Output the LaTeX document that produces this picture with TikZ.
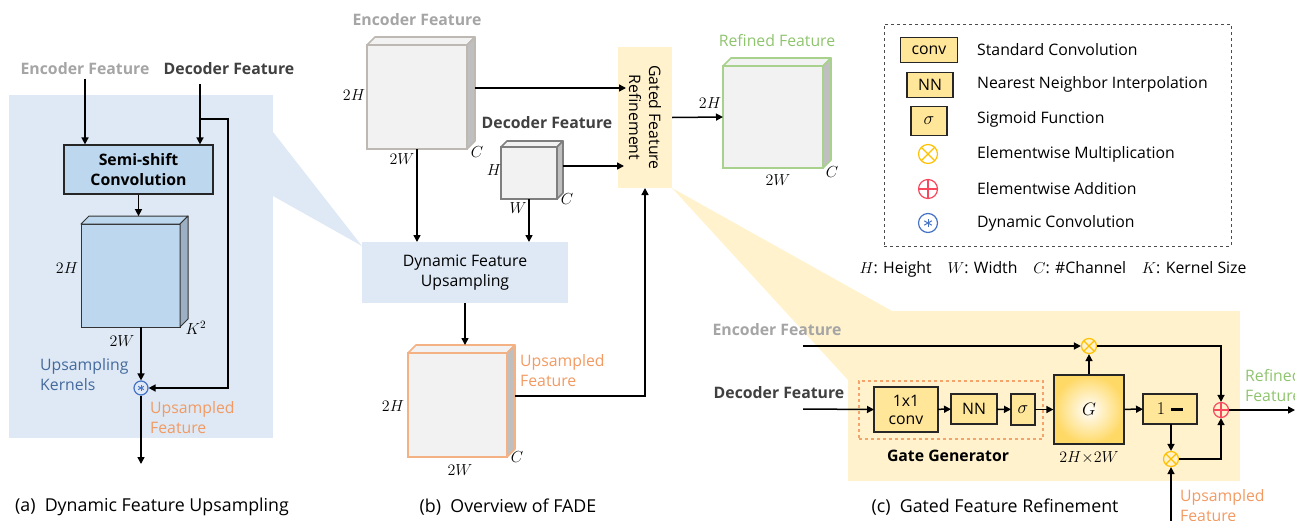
\RequirePackage{fix-cm}
\documentclass[tikz,border=0pt]{standalone}
\usepackage{fontspec}
\setmainfont{Open Sans}
\usetikzlibrary{positioning,arrows.meta}

\definecolor{bluebg}{HTML}{DEE9F5}
\definecolor{semiblue}{HTML}{BDD7EE}
\definecolor{kside}{HTML}{9DB0C3}
\definecolor{gfryel}{HTML}{FFF2CC}
\definecolor{opyel}{HTML}{FFE699}
\definecolor{gdeep}{HTML}{FFD966}
\definecolor{mulcol}{HTML}{FFC000}
\definecolor{addcol}{HTML}{F8485E}
\definecolor{dyncol}{HTML}{4472C4}
\definecolor{encgray}{HTML}{A5A5A5}
\definecolor{decdark}{HTML}{404040}
\definecolor{kerntxt}{HTML}{44699C}
\definecolor{uporange}{HTML}{F29A62}
\definecolor{upline}{HTML}{F4B183}
\definecolor{refgreen}{HTML}{8FC46E}
\definecolor{refline}{HTML}{A9D18E}
\definecolor{encline}{HTML}{BDB8B2}
\definecolor{decline}{HTML}{7F7F7F}
\definecolor{sidegray}{HTML}{BFBFBF}
\definecolor{mapfill}{HTML}{F2F2F2}
\definecolor{ggorange}{HTML}{F4A36B}

\newcommand{\figfont}{\fontsize{15.8}{20}\selectfont}
\newcommand{\dimfont}{\fontsize{16}{17}\selectfont}
\newcommand{\capfont}{\fontsize{17.8}{21}\selectfont}
\newcommand{\symfont}{\fontsize{18}{18}\selectfont}

% depth faces of a feature map: node, depth, line options, top fill, side fill
\newcommand{\mapdepth}[5]{%
  \filldraw[#3, fill=#4, line join=round] (#1.north west) -- ++(#2,-#2)
    -- ([shift={(#2,-#2)}]#1.north east) -- (#1.north east) -- cycle;
  \filldraw[#3, fill=#5, line join=round] (#1.north east) -- ++(#2,-#2)
    -- ([shift={(#2,-#2)}]#1.south east) -- (#1.south east) -- cycle;}

\begin{document}
\begin{tikzpicture}[x=1pt, y=-1pt, font=\figfont,
  arr/.style={-{Triangle[length=7pt,width=7pt]}, line width=1.5pt},
  ln/.style={line width=1.5pt},
  fmap/.style={draw, line width=1.6pt, fill=mapfill, outer sep=0pt, inner sep=0pt},
  opbox/.style={draw=black!85, line width=1.2pt, fill=opyel, align=center, inner sep=0pt, outer sep=0pt},
  dim/.style={font=\dimfont, inner sep=1pt},
  enclbl/.style={text=encgray, font=\figfont\bfseries},
  declbl/.style={text=decdark, font=\figfont\bfseries},
  captxt/.style={font=\capfont},
  mulop/.style={circle, draw=mulcol, line width=1.2pt, minimum size=#1, inner sep=0pt,
    path picture={\draw[mulcol, line width=1.2pt] (path picture bounding box.north west) -- (path picture bounding box.south east)
      (path picture bounding box.north east) -- (path picture bounding box.south west);}},
  addop/.style={circle, draw=addcol, line width=1.2pt, minimum size=#1, inner sep=0pt,
    path picture={\draw[addcol, line width=1.2pt] (path picture bounding box.north) -- (path picture bounding box.south)
      (path picture bounding box.east) -- (path picture bounding box.west);}},
  dynop/.style={circle, draw=dyncol, line width=1.2pt, minimum size=#1, inner sep=0pt,
    path picture={\foreach \a in {90,30,-30}
      \draw[dyncol, line width=1pt] (path picture bounding box.center) ++(\a:0.23*#1) -- ++(\a+180:0.46*#1);}}]
\useasboundingbox (0,0) rectangle (1295,520);

% backgrounds and callouts
\fill[bluebg] (9,95) rectangle (273,438);
\fill[bluebg] (273,132) -- (362,246) -- (273,196) -- cycle;
\fill[gfryel] (848,311) rectangle (1240,481);
\fill[gfryel] (672,188) -- (848,380) -- (892,311) -- cycle;

% (a) dynamic feature upsampling
\node[enclbl] (encA) at (85,69) {Encoder Feature};
\node[declbl] (decA) at (229,69) {Decoder Feature};
\node[draw=black!85, line width=1.2pt, fill=semiblue, minimum width=149, minimum height=49,
  align=center, inner sep=0pt, font=\figfont\bfseries] (ssc) at (138.5,169.5) {Semi-shift\\Convolution};
\node[fmap, draw=black!80, line width=1pt, fill=semiblue, minimum width=99, minimum height=103] (kA) at (130.5,275.5) {};
\mapdepth{kA}{8}{draw=black!80, line width=1pt}{semiblue}{kside}
\node[dim] at (67,268) {$2H$};
\node[dim] at (122,341) {$2W$};
\node[dim] at (196,328) {$K^2$};
\node[dynop=14] (dcA) at (141,388) {};
\node[anchor=west, align=left, text=kerntxt, inner sep=0pt] (kernA) at (40,375) {Upsampling\\Kernels};
\node[anchor=west, align=left, text=uporange, inner sep=0pt] (upA) at (150,418) {Upsampled\\Feature};
\coordinate (decAx) at (200,84);
\coordinate (brA) at (200,119);
\coordinate (outA) at (141,464);
\draw[arr] (encA.south) -- (encA.south |- ssc.north);
\draw[arr] (decAx) -- (decAx |- ssc.north);
\draw[arr] (brA) -- ++(28,0) |- (dcA.east);
\draw[arr] (ssc.south) -- ++(0,21.5);
\draw[arr] (dcA |- kA.south) -- (dcA);
\draw[arr] (dcA) -- (outA);
\node[captxt] (capA) at (152,507) {(a)\ \ Dynamic Feature Upsampling};

% (b) overview of FADE
\node[enclbl] (encB) at (417,20) {Encoder Feature};
\node[fmap, draw=encline, minimum width=100, minimum height=104] (encCube) at (417,97) {};
\mapdepth{encCube}{8}{draw=encline, line width=1.6pt}{mapfill}{sidegray}
\node[dim] at (354,95) {$2H$};
\node[dim] at (402,159) {$2W$};
\node[dim] at (477,152) {$C$};
\node[declbl] (decB) at (547,123) {Decoder Feature};
\node[fmap, draw=decline, minimum width=56, minimum height=52] (decCube) at (529,173) {};
\mapdepth{decCube}{6}{draw=decline, line width=1.6pt}{mapfill}{sidegray}
\node[dim] at (494,170) {$H$};
\node[dim] at (518,208) {$W$};
\node[dim] at (567,199) {$C$};
\node[fill=gfryel, minimum width=54, minimum height=141, inner sep=0pt, outer sep=0pt] (gfr) at (645,117.5) {};
\node[rotate=-90, align=center, inner sep=0pt] (gfrTxt) at (gfr.center) {Gated Feature\\Refinement};
\node[fill=bluebg, minimum width=206, minimum height=61, align=center, inner sep=0pt, outer sep=0pt] (dfu) at (465,272.5) {Dynamic Feature\\Upsampling};
\node[fmap, draw=upline, minimum width=99, minimum height=104] (upCube) at (457.5,405) {};
\mapdepth{upCube}{8}{draw=upline, line width=1.6pt}{mapfill}{sidegray}
\node[anchor=west, align=left, text=uporange, inner sep=0pt] (upB) at (520,371) {Upsampled\\Feature};
\node[dim] at (393,406) {$2H$};
\node[dim] at (460,470) {$2W$};
\node[dim] at (517,457) {$C$};
\node[text=refgreen] (refB) at (777,41) {Refined Feature};
\node[fmap, draw=refline, minimum width=100, minimum height=102] (refCube) at (773,117) {};
\mapdepth{refCube}{8}{draw=refline, line width=1.6pt}{mapfill}{sidegray}
\node[dim] at (710,103) {$2H$};
\node[dim] at (778,180) {$2W$};
\node[dim] at (832,172) {$C$};
\draw[arr] ([shift={(8,-9)}]encCube.east) -- ([shift={(8,-9)}]encCube.east -| gfr.west);
\draw[arr] ([shift={(6,-7)}]decCube.east) -- ([shift={(6,-7)}]decCube.east -| gfr.west);
\draw[arr] (encCube.south) -- (encCube.south |- dfu.north);
\draw[arr] (decCube.south) -- (decCube.south |- dfu.north);
\draw[arr] (dfu.south) -- ++(0,42);
\draw[arr] ([shift={(8,-9)}]upCube.east) -| (gfr.south);
\draw[arr] (gfr.east) -- (refCube.west);
\node[captxt] (capB) at (508,507) {(b)\ \ Overview of FADE};

% (c) gated feature refinement
\node[enclbl] (encC) at (777,330) {Encoder Feature};
\node[declbl] (decC) at (779,393) {Decoder Feature};
\coordinate (encIn) at (803,346);
\coordinate (decIn) at (803,409);
\node[draw=ggorange, dashed, line width=1.2pt, minimum width=184, minimum height=58, inner sep=0pt] (gg) at (951,410) {};
\node[font=\figfont\bfseries] (ggTxt) at (948,456) {Gate Generator};
\node[opbox, minimum width=64, minimum height=45, font=\figfont\linespread{0.9}\selectfont] (conv) at (906,409.5) {1x1\\conv};
\node[opbox, minimum width=46, minimum height=30] (nn) at (974,409) {NN};
\node[opbox, minimum width=24, minimum height=31, font=\symfont] (sig) at (1023,409.5) {$\sigma$};
\node[draw=black!85, line width=1.2pt, inner color=white, outer color=gdeep, minimum width=70, minimum height=69, inner sep=0pt, font=\symfont] (gbox) at (1089,409.5) {$G$};
\node[dim] (gdim) at (1089,458) {$2H{\times}2W$};
\node[opbox, minimum width=54, minimum height=30, font=\symfont] (one) at (1170,409) {$1$\hspace{6pt}\rule[4pt]{12pt}{2.6pt}};
\node[mulop=15] (mulTop) at (1089,346) {};
\node[mulop=15] (mulBot) at (1171,459) {};
\node[addop=15] (addC) at (1221,410) {};
\node[anchor=west, align=left, text=refgreen, inner sep=0pt] (refC) at (1245,386) {Refined\\Feature};
\node[anchor=west, align=left, text=uporange, inner sep=0pt] (upC) at (1180,506) {Upsampled\\Feature};
\coordinate (refOut) at (1295,410);
\coordinate (upIn) at (1171,522);
\draw[arr] (encIn) -- (mulTop);
\draw[arr] (decIn) -- (conv.west);
\draw[arr] (conv) -- (nn);
\draw[arr] (nn) -- (sig);
\draw[arr] (sig) -- (gbox);
\draw[arr] (gbox) -- (one);
\draw[arr] (gbox.north) -- (mulTop);
\draw[arr] (one.south -| mulBot) -- (mulBot);
\draw[arr] (mulTop) -| (addC);
\draw[arr] (mulBot) -| (addC);
\draw[arr] (addC) -- (refOut);
\draw[arr] (upIn) -- (mulBot);
\node[captxt] (capC) at (995,507) {(c)\ \ Gated Feature Refinement};

% legend
\node[draw=black!70, dashed, line width=1pt, minimum width=347, minimum height=222, inner sep=0pt] (lg) at (1057.5,135) {};
\node[opbox, minimum width=57, minimum height=25] (convL) at (929,50) {conv};
\node[opbox, minimum width=46, minimum height=25] (nnL) at (930,85) {NN};
\node[opbox, minimum width=36, minimum height=29, font=\symfont] (sigL) at (929,121) {$\sigma$};
\node[mulop=19] (mulL) at (928,154) {};
\node[addop=19] (addL) at (928,189) {};
\node[dynop=19] (dynL) at (928,223) {};
\node[anchor=west, inner sep=0pt] (convT) at (977,50) {Standard Convolution};
\node[anchor=west, inner sep=0pt] (nnT) at (977,84) {Nearest Neighbor Interpolation};
\node[anchor=west, inner sep=0pt] (sigT) at (977,119) {Sigmoid Function};
\node[anchor=west, inner sep=0pt] (mulT) at (977,154) {Elementwise Multiplication};
\node[anchor=west, inner sep=0pt] (addT) at (977,189) {Elementwise Addition};
\node[anchor=west, inner sep=0pt] (dynT) at (977,223) {Dynamic Convolution};
\node (dimsT) at (1053,269) {$H$: Height\quad $W$: Width\quad $C$: \#Channel\quad $K$: Kernel Size};
\end{tikzpicture}
\end{document}
